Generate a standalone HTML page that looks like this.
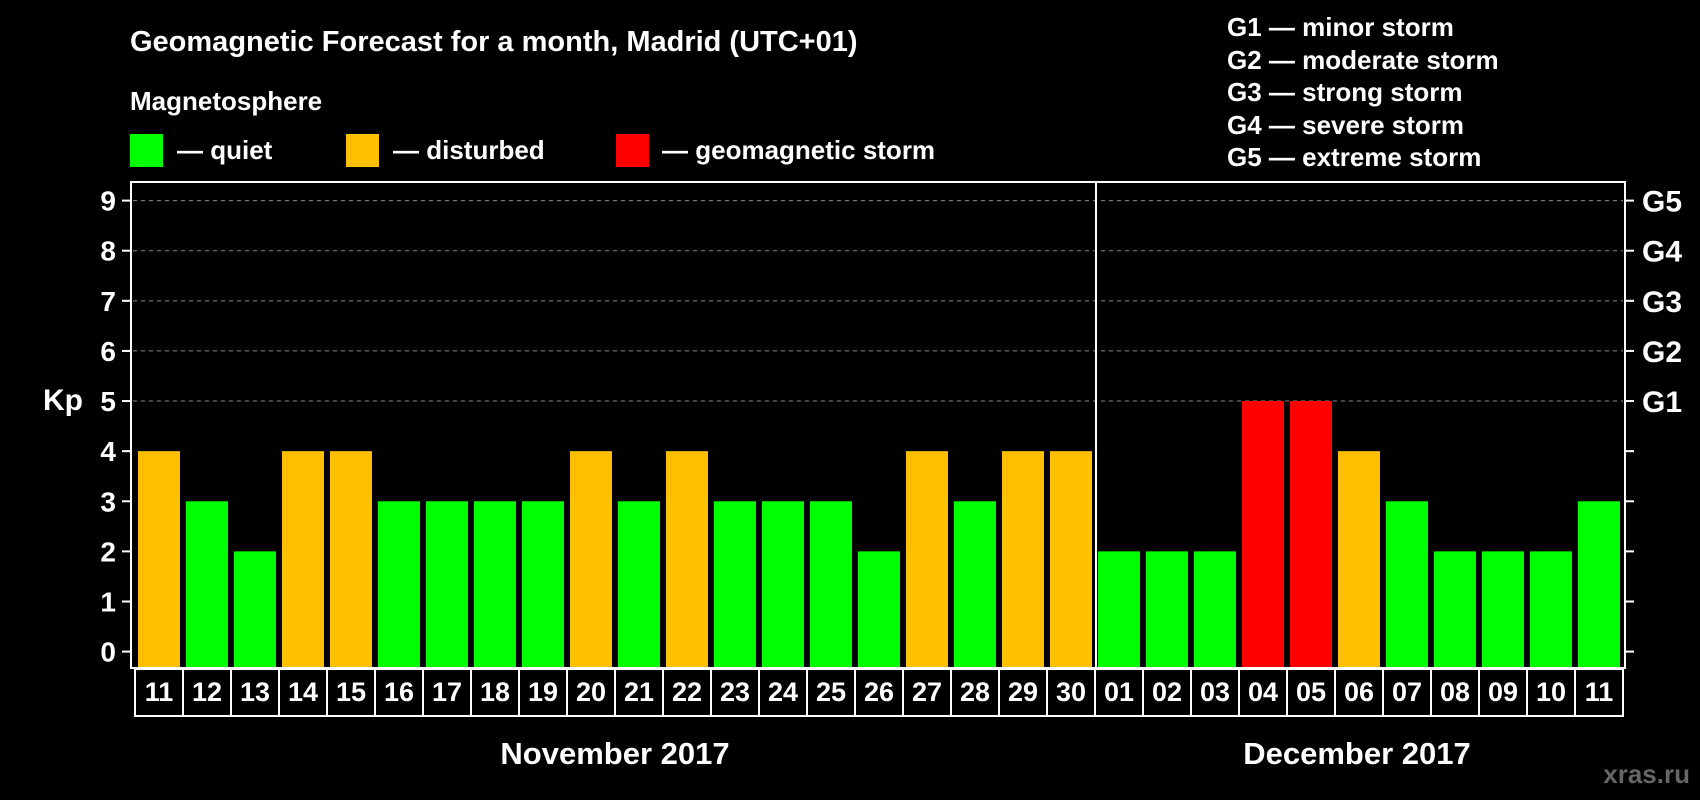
<!DOCTYPE html>
<html><head><meta charset="utf-8"><style>
html,body{margin:0;padding:0;background:#000;}
svg{display:block;font-family:"Liberation Sans",Arial,sans-serif;font-weight:bold;}
</style></head><body>
<svg id="chart" width="1700" height="800" viewBox="0 0 1700 800">
<text x="130" y="51" fill="#fff" font-size="29">Geomagnetic Forecast for a month, Madrid (UTC+01)</text>
<text x="130" y="110" fill="#fff" font-size="26">Magnetosphere</text>
<rect x="130" y="134" width="33" height="33" fill="#00ff00"/>
<text x="177" y="159" fill="#fff" font-size="26">— quiet</text>
<rect x="346" y="134" width="33" height="33" fill="#ffc000"/>
<text x="393" y="159" fill="#fff" font-size="26">— disturbed</text>
<rect x="616" y="134" width="33" height="33" fill="#ff0000"/>
<text x="662" y="159" fill="#fff" font-size="26">— geomagnetic storm</text>
<g fill="#fff" font-size="26">
<text x="1227" y="36">G1 — minor storm</text>
<text x="1227" y="69">G2 — moderate storm</text>
<text x="1227" y="101">G3 — strong storm</text>
<text x="1227" y="134">G4 — severe storm</text>
<text x="1227" y="166">G5 — extreme storm</text>
</g>
<text x="43" y="410" fill="#fff" font-size="30">Kp</text>
<g id="grid"></g>
<g id="bars"></g>
<rect x="131" y="182" width="1494" height="486" fill="none" stroke="#fff" stroke-width="2"/>
<line x1="1096" y1="182" x2="1096" y2="668" stroke="#fff" stroke-width="2"/>
<g id="xlabels"></g>
<text x="615" y="764" fill="#fff" font-size="31" text-anchor="middle">November 2017</text>
<text x="1357" y="764" fill="#fff" font-size="31" text-anchor="middle">December 2017</text>
<text x="1690" y="783" fill="#666" font-size="26" text-anchor="end">xras.ru</text>
</svg>
<script>
const days = ["11","12","13","14","15","16","17","18","19","20","21","22","23","24","25","26","27","28","29","30","01","02","03","04","05","06","07","08","09","10","11"];
const kpValues = [4,3,2,4,4,3,3,3,3,4,3,4,3,3,3,2,4,3,4,4,2,2,2,5,5,4,3,2,2,2,3];
const yTicks = [0,1,2,3,4,5,6,7,8,9];
const gLabels = ["","","","","","G1","G2","G3","G4","G5"];
const NS="http://www.w3.org/2000/svg";
const y0=651.6, unit=(651.6-200.6)/9, plotBottom=667;
function yScale(v){return y0-v*unit;}
const x0=138, step=48, bw=42;
function xScale(i){return x0+i*step;}
function mk(tag,attrs,parent){const e=document.createElementNS(NS,tag);for(const k in attrs)e.setAttribute(k,attrs[k]);parent.appendChild(e);return e;}
const grid=document.getElementById('grid');
yTicks.forEach((t,i)=>{
  const y=yScale(t);
  if(t>=5){const l=mk('line',{x1:133,x2:1623,y1:y,y2:y,stroke:'#888','stroke-dasharray':'4,4','stroke-width':1},grid);
  
  }
  const tl=mk('line',{x1:122,x2:131,y1:y,y2:y,stroke:'#fff','stroke-width':2},grid);
  
  
  const tr=mk('line',{x1:1625,x2:1634,y1:y,y2:y,stroke:'#fff','stroke-width':2},grid);
  
  
  const tx=mk('text',{x:116,y:y+10,fill:'#fff','font-size':28,'text-anchor':'end'},grid);
  tx.textContent=t;
  
  
  if(gLabels[i]){const g=mk('text',{x:1642,y:y+11,fill:'#fff','font-size':30},grid);
  g.textContent=gLabels[i];
  
  }
});
const bars=document.getElementById('bars'), xl=document.getElementById('xlabels');
kpValues.forEach((v,i)=>{
  const c=v>=5?'#ff0000':(v>=4?'#ffc000':'#00ff00');
  const r=mk('rect',{x:xScale(i),y:yScale(v),width:bw,height:plotBottom-yScale(v),fill:c},bars);
  
  
  const bx=mk('rect',{x:xScale(i)-3,y:669,width:48,height:47,fill:'none',stroke:'#fff','stroke-width':2},xl);
  
  
  const t=mk('text',{x:xScale(i)+bw/2,y:701,fill:'#fff','font-size':27,'text-anchor':'middle'},xl);
  t.textContent=days[i];
  
  
});
</script>
</body></html>
